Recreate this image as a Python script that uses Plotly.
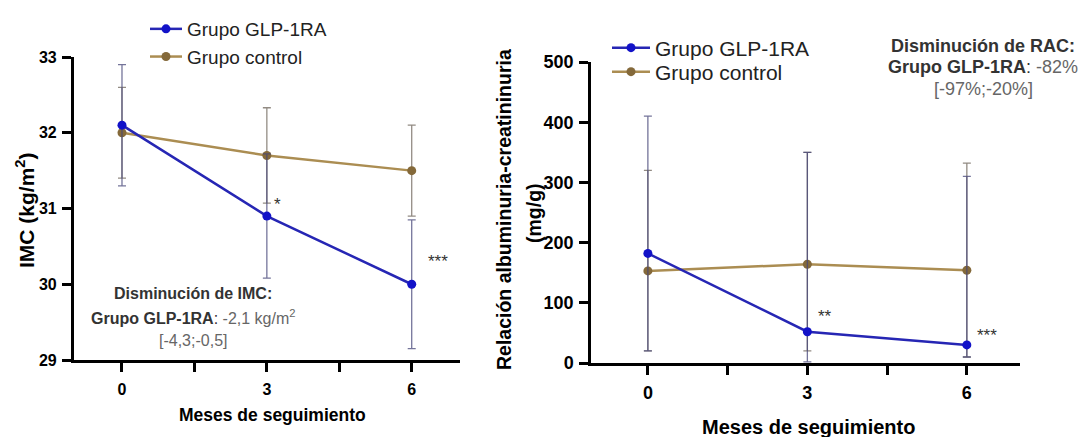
import plotly.graph_objects as go

W, H = 1085, 437

meses = [0, 3, 6]
x_major_ticks = [0, 3, 6]
x_minor_ticks = [1.5, 4.5]

# IMC (kg/m2)
imc_glp = [32.1, 30.9, 30.0]
imc_glp_err = [0.8, 0.82, 0.85]
imc_ctrl = [32.0, 31.7, 31.5]
imc_ctrl_err = [0.6, 0.63, 0.6]
imc_ticks = [29, 30, 31, 32, 33]

# RAC (mg/g) with asymmetric ranges
rac_glp = [182, 52, 30]
rac_glp_hi = [410, 350, 310]
rac_glp_lo = [20, 2, 10]
rac_ctrl = [153, 164, 154]
rac_ctrl_hi = [320, 350, 332]
rac_ctrl_lo = [20, 20, 10]
rac_ticks = [0, 100, 200, 300, 400, 500]

BLUE_LINE = "#2626b4"
BLUE_MK = "#1212c8"
BLUE_ERR = "rgba(70,70,120,0.75)"
CTRL_LINE = "#ab8d52"
CTRL_MK = "#84693a"
CTRL_ERR = "rgba(110,100,90,0.75)"
FONT = "Liberation Sans, Arial, sans-serif"


def px(xp):
    return xp / W


def py(yp):
    return 1 - yp / H


fig = go.Figure()

# ---- left panel ----
fig.add_trace(go.Scatter(
    x=meses, y=imc_ctrl, mode="lines+markers", name="Grupo control",
    line=dict(color=CTRL_LINE, width=2.5),
    marker=dict(color=CTRL_MK, size=9),
    error_y=dict(type="data", array=imc_ctrl_err, color=CTRL_ERR, thickness=1.3, width=4),
    xaxis="x", yaxis="y", legend="legend", legendrank=2))
fig.add_trace(go.Scatter(
    x=meses, y=imc_glp, mode="lines+markers", name="Grupo GLP-1RA",
    line=dict(color=BLUE_LINE, width=2.5),
    marker=dict(color=BLUE_MK, size=9),
    error_y=dict(type="data", array=imc_glp_err, color=BLUE_ERR, thickness=1.3, width=4),
    xaxis="x", yaxis="y", legend="legend", legendrank=1))

# ---- right panel ----
fig.add_trace(go.Scatter(
    x=meses, y=rac_ctrl, mode="lines+markers", name="Grupo control",
    line=dict(color=CTRL_LINE, width=2.5),
    marker=dict(color=CTRL_MK, size=9),
    error_y=dict(type="data",
                 array=[h - v for h, v in zip(rac_ctrl_hi, rac_ctrl)],
                 arrayminus=[v - l for l, v in zip(rac_ctrl_lo, rac_ctrl)],
                 color=CTRL_ERR, thickness=1.3, width=4),
    xaxis="x2", yaxis="y2", legend="legend3"))
fig.add_trace(go.Scatter(
    x=meses, y=rac_glp, mode="lines+markers", name="Grupo GLP-1RA",
    line=dict(color=BLUE_LINE, width=2.5),
    marker=dict(color=BLUE_MK, size=9),
    error_y=dict(type="data",
                 array=[h - v for h, v in zip(rac_glp_hi, rac_glp)],
                 arrayminus=[v - l for l, v in zip(rac_glp_lo, rac_glp)],
                 color=BLUE_ERR, thickness=1.3, width=4),
    xaxis="x2", yaxis="y2", legend="legend2"))

axis_common = dict(showline=True, linecolor="black", linewidth=2.5, ticks="outside",
                   tickcolor="black", tickwidth=2.5, ticklen=9, showgrid=False,
                   zeroline=False, mirror=False, automargin=False)
minor_x = dict(tickvals=x_minor_ticks, ticks="outside", ticklen=9, tickwidth=2.5,
               tickcolor="black", showgrid=False)

leg_right = dict(xanchor="left", yanchor="middle",
                 font=dict(size=21, family=FONT, color="#222"), bgcolor="rgba(0,0,0,0)",
                 itemwidth=38, tracegroupgap=0)

fig.update_layout(
    template="none",
    width=W, height=H, margin=dict(l=0, r=0, t=0, b=0, pad=0, autoexpand=False),
    paper_bgcolor="white", plot_bgcolor="white",
    font=dict(family=FONT, color="black"),
    xaxis=dict(domain=[px(73.7), px(460)], range=[-1, 7], tickvals=x_major_ticks,
               anchor="y", minor=minor_x,
               tickfont=dict(size=16, family=FONT, weight="bold"), ticklabelstandoff=4,
               **axis_common),
    yaxis=dict(domain=[py(360), py(57)], range=[29, 33], tickvals=imc_ticks, anchor="x",
               tickfont=dict(size=16, family=FONT, weight="bold"), ticklabelstandoff=2,
               **axis_common),
    xaxis2=dict(domain=[px(591), px(1020)], range=[-1.07, 7], tickvals=x_major_ticks,
                anchor="y2", minor=minor_x,
                tickfont=dict(size=18, family=FONT, weight="bold"), ticklabelstandoff=3,
                **axis_common),
    yaxis2=dict(domain=[py(363), py(62)], range=[0, 500], tickvals=rac_ticks, anchor="x2",
                tickfont=dict(size=18, family=FONT, weight="bold"), ticklabelstandoff=2,
                **axis_common),
    legend=dict(x=px(145), y=py(10), xanchor="left", yanchor="top",
                font=dict(size=19, family=FONT, color="#222"), bgcolor="rgba(0,0,0,0)",
                itemwidth=32, tracegroupgap=0),
    legend2=dict(x=px(607), y=py(48), **leg_right),
    legend3=dict(x=px(607), y=py(72), **leg_right),
    showlegend=True,
)

C = dict(xref="paper", yref="paper", showarrow=False, xanchor="center", yanchor="middle")
ann = []
# axis titles
ann.append(dict(text="<b>IMC (kg/m<sup>2</sup>)</b>", x=px(25), y=py(210), textangle=-90,
                font=dict(size=21), **C))
ann.append(dict(text="<b>Meses de seguimiento</b>", x=px(272), y=py(415),
                font=dict(size=17.5), **C))
ann.append(dict(text="<b>Relación albuminuria-creatininuria</b>", x=px(504), y=py(210),
                textangle=-90, font=dict(size=19.5), **C))
ann.append(dict(text="<b>(mg/g)</b>", x=px(534), y=py(213), textangle=-90,
                font=dict(size=19.5), **C))
ann.append(dict(text="<b>Meses de seguimiento</b>", x=px(808), y=py(427),
                font=dict(size=20), **C))

# significance stars
S = dict(showarrow=False, xanchor="center", yanchor="middle")
ann.append(dict(text="*", x=3, y=31.05, xref="x", yref="y", xshift=11,
                font=dict(size=17, color="#333"), **S))
ann.append(dict(text="***", x=6, y=30.3, xref="x", yref="y", xshift=26,
                font=dict(size=17, color="#333"), **S))
ann.append(dict(text="**", x=3, y=78, xref="x2", yref="y2", xshift=18,
                font=dict(size=17, color="#333"), **S))
ann.append(dict(text="***", x=6, y=45, xref="x2", yref="y2", xshift=20,
                font=dict(size=17, color="#333"), **S))

# left text box
ann.append(dict(text="<b>Disminución de IMC:</b>", x=px(193), y=py(293),
                font=dict(size=16, color="#333"), **C))
ann.append(dict(text="<b>Grupo GLP-1RA</b>: <span style='color:#666'>-2,1 kg/m<sup>2</sup></span>",
                x=px(193), y=py(317), font=dict(size=16, color="#333"), **C))
ann.append(dict(text="[-4,3;-0,5]", x=px(193), y=py(340),
                font=dict(size=16, color="#666"), **C))

# right text box
ann.append(dict(text="<b>Disminución de RAC:</b>", x=px(983), y=py(46),
                font=dict(size=18, color="#333"), **C))
ann.append(dict(text="<b>Grupo GLP-1RA</b>: <span style='color:#666'>-82%</span>",
                x=px(983), y=py(67), font=dict(size=18, color="#333"), **C))
ann.append(dict(text="[-97%;-20%]", x=px(983), y=py(89),
                font=dict(size=18, color="#666"), **C))

fig.update_layout(annotations=ann)

fig.write_html("out.html", config={"displayModeBar": False},
               post_script="document.body.style.margin='0';document.body.style.overflow='hidden';")
